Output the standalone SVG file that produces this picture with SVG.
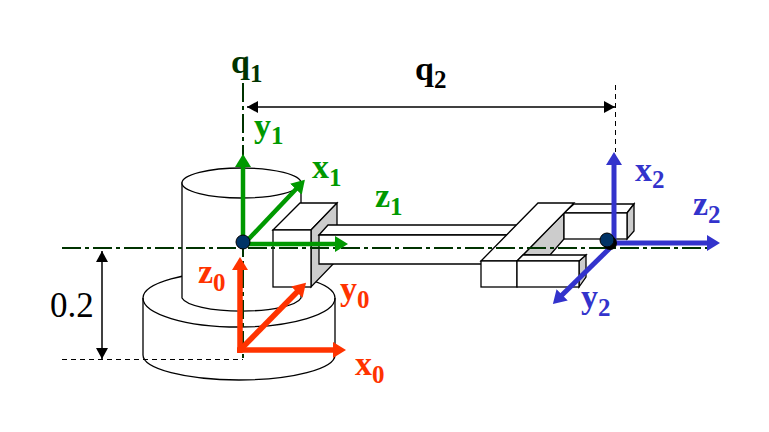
<svg xmlns="http://www.w3.org/2000/svg" width="769" height="432" viewBox="0 0 769 432">
<style>
.s{fill:#fff;stroke:#000;stroke-width:1.3}
.g{fill:#ccc;stroke:#000;stroke-width:1.3}
.n{fill:none;stroke:#000;stroke-width:1.3}
.ax{fill:none;stroke:#003300;stroke-width:2;stroke-dasharray:19 4 4 4}
.da{fill:none;stroke:#000;stroke-width:1;stroke-dasharray:5 4}
.dim{fill:none;stroke:#000;stroke-width:1.5}
.t{font-family:"Liberation Serif","Times New Roman",serif;font-weight:bold;font-size:34px}
.t tspan{font-size:25px}
.gr{fill:#009900}.re{fill:#ff3300}.bl{fill:#3333cc}
.lg{stroke:#009900;stroke-width:4.500;fill:none}.lr{stroke:#ff3300;stroke-width:5.500;fill:none}.lb{stroke:#3333cc;stroke-width:5;fill:none}
.dot{fill:#003366;stroke:#000;stroke-width:1}
</style>
<defs>
<marker id="ag" markerWidth="14" markerHeight="17" refX="3" refY="8" orient="auto" markerUnits="userSpaceOnUse"><path d="M0 0L13 8L0 16Z" fill="#009900"/></marker>
<marker id="ar" markerWidth="14" markerHeight="17" refX="3" refY="8" orient="auto" markerUnits="userSpaceOnUse"><path d="M0 0L13 8L0 16Z" fill="#ff3300"/></marker>
<marker id="ab" markerWidth="14" markerHeight="17" refX="3" refY="8" orient="auto" markerUnits="userSpaceOnUse"><path d="M0 0L13 8L0 16Z" fill="#3333cc"/></marker>
<marker id="ak" markerWidth="12" markerHeight="13" refX="11" refY="6" orient="auto-start-reverse" markerUnits="userSpaceOnUse"><path d="M0 0L11 6L0 12Z" fill="#000"/></marker>
</defs>
<g id="base">
<path class="s" d="M143 298A96 27 0 0 1 335 298V355A96 25 0 0 1 143 355Z"/>
<path class="n" d="M143 298A96 29 0 0 0 335 298"/>
</g>
<g id="cylinder">
<path class="s" d="M182 183V298A60 15 0 0 0 301 298V183Z"/>
<ellipse class="s" cx="241.500" cy="183" rx="59.500" ry="15"/>
</g>
<g id="joint-box">
<path class="s" d="M273 230L300 203H337L311 230Z"/>
<path class="g" d="M311 230L337 203V260L311 287Z"/>
<rect class="s" x="273" y="230" width="38" height="57"/>
</g>
<g id="link">
<path class="s" d="M319 235L328 225H516V235Z"/>
<path class="s" d="M319 235H510V264H319Z"/>
</g>
<g id="gripper">
<path class="g" d="M564 213V239L550 255H523Z"/>
<path class="s" d="M564 213L574 204H634L627 213Z"/>
<path class="g" d="M627 213L634 204V231L627 239Z"/>
<rect class="s" x="564" y="213" width="63" height="26"/>
<path class="s" d="M481 261L538 203H574L517 261Z"/>
<path class="g" d="M579 261L586 255V277L579 287Z"/>
<path class="s" d="M517 261L523 255H586L579 261Z"/>
<rect class="s" x="481" y="261" width="36" height="26"/>
<rect class="s" x="517" y="261" width="62" height="26"/>
</g>
<g id="connectors">
<path class="ax" d="M243 83V360"/>
<path class="ax" d="M62 248H712"/>
<path class="da" d="M62 359.500H243"/>
<path class="da" d="M615.500 85V152"/>
<path class="dim" d="M247 107H615" marker-start="url(#ak)" marker-end="url(#ak)"/>
<path class="dim" d="M102 251V359" marker-start="url(#ak)" marker-end="url(#ak)"/>
<path class="lg" d="M243 245V164" marker-end="url(#ag)"/>
<path class="lg" d="M243 245L298 187" marker-end="url(#ag)"/>
<path class="lg" d="M245 244H338" marker-end="url(#ag)"/>
<path class="lr" d="M240 353V267" marker-end="url(#ar)"/>
<path class="lr" d="M240 350L299 290" marker-end="url(#ar)"/>
<path class="lr" d="M237 350H336" marker-end="url(#ar)"/>
<path class="lb" d="M614 245V162" marker-end="url(#ab)"/>
<path class="lb" d="M612 243H710" marker-end="url(#ab)"/>
<path class="lb" d="M613 245L560 297" marker-end="url(#ab)"/>
</g>
<g id="joint-1"><circle class="dot" cx="243" cy="242" r="7"/></g>
<g id="joint-2"><circle cx="610" cy="243" r="7" fill="#000"/><circle class="dot" cx="607" cy="240" r="7"/></g>
<g id="labels">
<text class="t" x="231" y="73" fill="#003300">q<tspan dy="9">1</tspan></text>
<text class="t" x="415" y="80">q<tspan dy="8">2</tspan></text>
<text class="t gr" x="254" y="137">y<tspan dy="7">1</tspan></text>
<text class="t gr" x="312" y="178">x<tspan dy="8">1</tspan></text>
<text class="t gr" x="375" y="207">z<tspan dy="8">1</tspan></text>
<text class="t re" x="198" y="283">z<tspan dy="8">0</tspan></text>
<text class="t re" x="340" y="300">y<tspan dy="8">0</tspan></text>
<text class="t re" x="355" y="375">x<tspan dy="8">0</tspan></text>
<text class="t bl" x="635" y="181">x<tspan dy="7">2</tspan></text>
<text class="t bl" x="693" y="215">z<tspan dy="8">2</tspan></text>
<text class="t bl" x="581" y="308">y<tspan dy="8">2</tspan></text>
<text x="50" y="317" font-family="'Liberation Serif','Times New Roman',serif" font-size="35">0.2</text>
</g>
</svg>
